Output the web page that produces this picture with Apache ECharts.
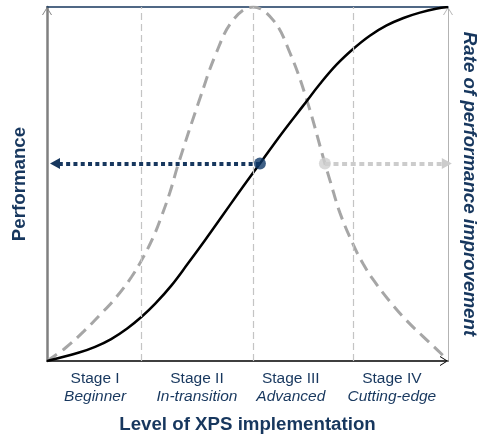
<!DOCTYPE html>
<html><head><meta charset="utf-8">
<script src="https://cdn.jsdelivr.net/npm/echarts@6/dist/echarts.min.js"></script>
<style>html,body{margin:0;padding:0;background:#fff}#c{width:480px;height:437px}</style>
</head><body><div id="c"></div>
<script>
const stageNames = ['Stage I', 'Stage II', 'Stage III', 'Stage IV'];
const stageSubtitles = ['Beginner', 'In-transition', 'Advanced', 'Cutting-edge'];
const stageLabelX = [12.0, 37.4, 60.8, 86.0];
const stageBoundaries = [23.6, 51.4, 76.3];

const performanceX = [0, 8, 12, 16, 20, 23.6, 27, 31, 35, 39.4, 43.6, 47.7, 51.4, 53.1, 58.5, 63.8, 68.1, 72.2, 76.4, 80.5, 84.7, 88.9, 93, 97, 100];
const performanceY = [0, 2.4, 4.0, 6.2, 9.2, 12.5, 16.2, 21.3, 27.3, 34.1, 40.8, 47.4, 53.2, 55.8, 64.2, 72.0, 78.3, 83.7, 88.2, 91.9, 94.8, 96.9, 98.4, 99.5, 100];

const rateX = [0, 4.5, 9.1, 13.2, 17.4, 21.1, 23.6, 26.5, 28.6, 30.7, 32.7, 38.0, 42.2, 46.4, 51.4, 56.4, 60.6, 64.8, 69.3, 70.6, 73.1, 76.4, 78.9, 81.4, 85.5, 89.7, 93.8, 98.0, 100];
const rateY = [0, 3.6, 8.3, 13.0, 18.2, 23.8, 28.5, 35.0, 41.0, 47.8, 55.5, 73.7, 87.0, 96.3, 100, 96.3, 87.0, 73.7, 55.8, 50.9, 41.7, 32.8, 27.3, 22.9, 16.8, 11.4, 6.9, 2.4, 0];

const currentPoint = [53.1, 55.8];
const ratePoint = [69.3, 55.8];
const leftArrowEndX = 2.0;
const rightArrowEndX = 99.7;

const NAVY = '#17375e';
const chevron = 'path://M0,8 L5,0 L10,8 L9,8 L5,1.6 L1,8 Z';
const FONT = 'Liberation Sans';

const zip = (xs, ys) => xs.map((x, i) => [x, ys[i]]);

const chart = echarts.init(document.getElementById('c'));
chart.setOption({
  animation: false,
  grid: { left: 47, right: 32, top: 7, bottom: 76, outerBoundsMode: 'none', containLabel: false },
  xAxis: [{
    type: 'value', min: 0, max: 100, position: 'bottom',
    axisLine: { show: true, onZero: false, lineStyle: { color: '#000', width: 1.5 }, symbol: ['none', chevron], symbolSize: [10, 8], symbolOffset: [0, -4] },
    axisTick: { show: false },
    splitLine: { show: false },
    axisLabel: {
      customValues: stageLabelX,
      margin: 8,
      formatter: (v) => {
        let i = stageLabelX.findIndex(s => Math.abs(s - v) < 0.01);
        if (i < 0) return '';
        return '{a|' + stageNames[i] + '}\n{b|' + stageSubtitles[i] + '}';
      },
      rich: {
        a: { fontFamily: FONT, fontSize: 15.5, color: NAVY, lineHeight: 18.5 },
        b: { fontFamily: FONT, fontSize: 15.5, color: NAVY, fontStyle: 'italic', lineHeight: 18.5 }
      }
    },
    name: 'Level of XPS implementation', nameLocation: 'middle', nameGap: 54,
    nameTextStyle: { fontFamily: FONT, fontSize: 18.7, fontWeight: 'bold', color: NAVY }
  }, {
    type: 'value', min: 0, max: 100, position: 'top',
    axisLine: { show: true, onZero: false, lineStyle: { color: NAVY, width: 1.5 } },
    axisTick: { show: false }, axisLabel: { show: false }, splitLine: { show: false }
  }],
  yAxis: [{
    type: 'value', min: 0, max: 100, position: 'left',
    axisLine: { show: true, onZero: false, lineStyle: { color: '#808080', width: 2.5 }, symbol: ['none', chevron], symbolSize: [10, 8], symbolOffset: [0, -4] },
    axisTick: { show: false }, axisLabel: { show: false }, splitLine: { show: false },
    name: 'Performance', nameLocation: 'middle', nameGap: 18,
    nameTextStyle: { fontFamily: FONT, fontSize: 18.7, fontWeight: 'bold', color: NAVY }
  }, {
    type: 'value', min: 0, max: 100, position: 'right',
    axisLine: { show: true, onZero: false, lineStyle: { color: '#b3b3b3', width: 1 }, symbol: ['none', chevron], symbolSize: [10, 8], symbolOffset: [0, -4] },
    axisTick: { show: false }, axisLabel: { show: false }, splitLine: { show: false },
    name: 'Rate of performance improvement', nameLocation: 'middle', nameGap: 12, nameRotate: -90,
    nameTextStyle: { fontFamily: FONT, fontSize: 18.7, fontWeight: 'bold', fontStyle: 'italic', color: NAVY }
  }],
  series: [{
    type: 'line', name: 'separators', data: [], z: 1,
    markLine: {
      silent: true, symbol: ['none', 'none'], label: { show: false },
      lineStyle: { color: '#c4c4c4', width: 1.2, type: [7, 4] },
      data: stageBoundaries.map(x => ({ xAxis: x }))
    }
  }, {
    type: 'line', name: 'rate', data: zip(rateX, rateY), smooth: 0.4, showSymbol: false, z: 2,
    lineStyle: { color: '#a6a6a6', width: 3, type: [12, 7] }
  }, {
    type: 'line', name: 'performance', data: zip(performanceX, performanceY), smooth: 0.4, showSymbol: false, z: 3,
    lineStyle: { color: '#000', width: 2.5 }
  }, {
    type: 'line', name: 'arrows', data: [], z: 4,
    markLine: {
      silent: true, label: { show: false }, symbol: ['none', 'triangle'], symbolSize: [11, 10],
      data: [
        [{ coord: currentPoint, lineStyle: { color: NAVY, width: 4, type: [4, 3.3], cap: 'butt' } },
         { coord: [leftArrowEndX, currentPoint[1]] }],
        [{ coord: ratePoint, lineStyle: { color: '#cccccc', width: 4, type: [5, 3.6], cap: 'butt' } },
         { coord: [rightArrowEndX, ratePoint[1]] }]
      ]
    }
  }, {
    type: 'scatter', name: 'dots', z: 5, symbolSize: 12,
    data: [
      { value: currentPoint, itemStyle: { color: '#0e3766' } },
      { value: ratePoint, itemStyle: { color: '#d0d0d0' } }
    ]
  }]
});
</script></body></html>
